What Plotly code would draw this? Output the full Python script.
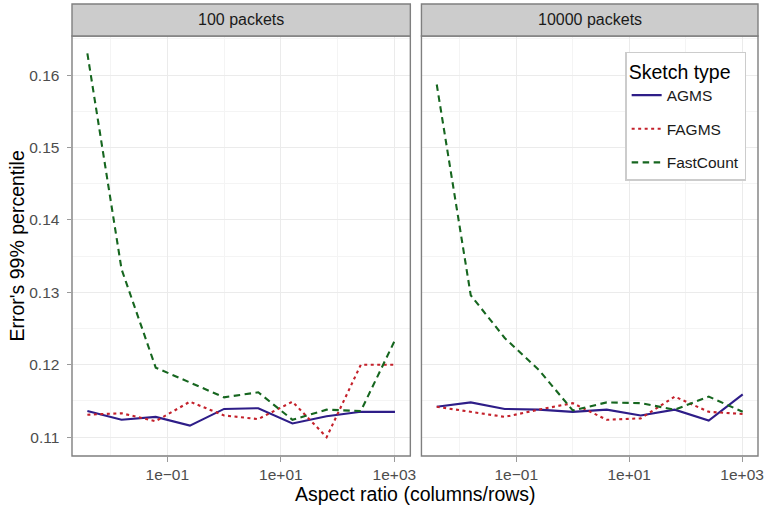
import plotly.graph_objects as go

# Aspect ratios (columns/rows) tested for each sketch
aspect_ratio = [0.00390625, 0.015625, 0.0625, 0.25, 1, 4, 16, 64, 256, 1024]

# Error's 99% percentile, 100 packets
agms_100 = [0.1136, 0.1124, 0.1128, 0.1116, 0.1139, 0.1140, 0.1119, 0.1129, 0.1135, 0.1135]
fagms_100 = [0.1131, 0.1133, 0.1122, 0.1149, 0.1130, 0.1125, 0.1149, 0.1100, 0.1200, 0.1200]
fastcount_100 = [0.1630, 0.1332, 0.1196, 0.1176, 0.1155, 0.1162, 0.1124, 0.1138, 0.1136, 0.1234]

# Error's 99% percentile, 10000 packets
agms_10k = [0.1142, 0.1148, 0.1139, 0.1138, 0.1135, 0.1138, 0.1130, 0.1138, 0.1123, 0.1159]
fagms_10k = [0.1142, 0.1135, 0.1128, 0.1138, 0.1147, 0.1124, 0.1126, 0.1156, 0.1135, 0.1132]
fastcount_10k = [0.1587, 0.1296, 0.1237, 0.1193, 0.1137, 0.1148, 0.1147, 0.1138, 0.1156, 0.1135]

panel_titles = ["100 packets", "10000 packets"]
sketch_names = ["AGMS", "FAGMS", "FastCount"]
x_tickvals = [0.1, 10, 1000]
x_ticktext = ["1e\u221201", "1e+01", "1e+03"]
y_tickvals = [0.11, 0.12, 0.13, 0.14, 0.15, 0.16]

colors = {"AGMS": "#2E1D88", "FAGMS": "#C4212B", "FastCount": "#16661F"}
dashes = {"AGMS": "solid", "FAGMS": "3px,3.5px", "FastCount": "6.5px,4.5px"}

FONT = "Liberation Sans, Arial, sans-serif"
TICK_GREY = "#4D4D4D"
BORDER = "#7F7F7F"

fig = go.Figure()

panels = [
    ("x", "y", [agms_100, fagms_100, fastcount_100]),
    ("x2", "y2", [agms_10k, fagms_10k, fastcount_10k]),
]
for p, (xa, ya, series) in enumerate(panels):
    for name, vals in zip(sketch_names, series):
        fig.add_trace(go.Scatter(
            x=aspect_ratio, y=vals, xaxis=xa, yaxis=ya,
            mode="lines", name=name, legendgroup=name,
            showlegend=(p == 1),
            line=dict(color=colors[name], width=2.1, dash=dashes[name]),
        ))

x_range = [-2.679, 3.281]
y_range = [0.1074, 0.1654]

axis_common = dict(
    showline=False, zeroline=False,
    ticks="outside", ticklen=4.5, tickwidth=1, tickcolor="#9A9A9A",
    tickfont=dict(family=FONT, size=15.5, color=TICK_GREY),
    gridcolor="#EBEBEB", gridwidth=1,
)
xaxis_cfg = dict(
    axis_common, type="log", range=x_range,
    tickmode="array", tickvals=x_tickvals, ticktext=x_ticktext,
    minor=dict(tickmode="array", tickvals=[0.01, 1, 100], showgrid=True,
               gridcolor="#F4F4F4", gridwidth=1, ticks=""),
)
yaxis_cfg = dict(
    axis_common, range=y_range,
    tickmode="array", tickvals=y_tickvals,
    ticktext=["0.11", "0.12", "0.13", "0.14", "0.15", "0.16"],
    ticklabelstandoff=4,
    minor=dict(tickmode="array", tickvals=[0.105, 0.115, 0.125, 0.135, 0.145, 0.155, 0.165],
               showgrid=True, gridcolor="#F4F4F4", gridwidth=1, ticks=""),
)

W, H = 772, 508
ML, MR, MT, MB = 72, 8, 36, 52
pw = W - ML - MR
ph = H - MT - MB
d1 = [0, (413.3 - ML) / pw]
d2 = [(424.5 - ML) / pw, 1]

fig.update_layout(
    width=W, height=H,
    margin=dict(l=ML, r=MR, t=MT, b=MB),
    paper_bgcolor="white", plot_bgcolor="white",
    font=dict(family=FONT, color="#1A1A1A"),
    xaxis=dict(xaxis_cfg, domain=d1, anchor="y"),
    xaxis2=dict(xaxis_cfg, domain=d2, anchor="y2"),
    yaxis=dict(yaxis_cfg, domain=[0, 1], anchor="x"),
    yaxis2=dict(yaxis_cfg, domain=[0, 1], anchor="x2", matches="y",
                showticklabels=False, ticks=""),
    legend=dict(
        x=(630 - ML) / pw, y=(H - MB - 51.7) / ph,
        xanchor="left", yanchor="top",
        bgcolor="white", bordercolor="#CCCCCC", borderwidth=1.5,
        font=dict(family=FONT, size=15.5, color="#1A1A1A"),
        title=dict(text="Sketch type", font=dict(family=FONT, size=19.5, color="#000000")),
        tracegroupgap=10.5, itemwidth=30,
    ),
)

strip_h = 32 / ph
shapes = []
annotations = []
for xa, ya, title in [("x", "y", panel_titles[0]), ("x2", "y2", panel_titles[1])]:
    # panel border
    shapes.append(dict(type="rect", xref=f"{xa} domain", yref=f"{ya} domain",
                       x0=0, x1=1, y0=0, y1=1, line=dict(color=BORDER, width=1.4),
                       fillcolor="rgba(0,0,0,0)", layer="above"))
    # facet strip
    shapes.append(dict(type="rect", xref=f"{xa} domain", yref="paper",
                       x0=0, x1=1, y0=1, y1=1 + strip_h,
                       line=dict(color=BORDER, width=1.4), fillcolor="#CCCCCC", layer="above"))
    annotations.append(dict(text=title, xref=f"{xa} domain", yref="paper",
                            x=0.5, y=1 + strip_h / 2, showarrow=False,
                            xanchor="center", yanchor="middle",
                            font=dict(family=FONT, size=16, color="#1A1A1A")))

annotations.append(dict(text="Aspect ratio (columns/rows)", xref="paper", yref="paper",
                        x=(418 - ML) / pw, y=-(494 - (H - MB)) / ph, showarrow=False,
                        xanchor="center", yanchor="middle",
                        font=dict(family=FONT, size=19.5, color="#000000")))
annotations.append(dict(text="Error's 99% percentile", xref="paper", yref="paper",
                        x=(17 - ML) / pw, y=0.5, showarrow=False, textangle=-90,
                        xanchor="center", yanchor="middle",
                        font=dict(family=FONT, size=19.5, color="#000000")))

fig.update_layout(shapes=shapes, annotations=annotations)

fig.write_html("out.html")
